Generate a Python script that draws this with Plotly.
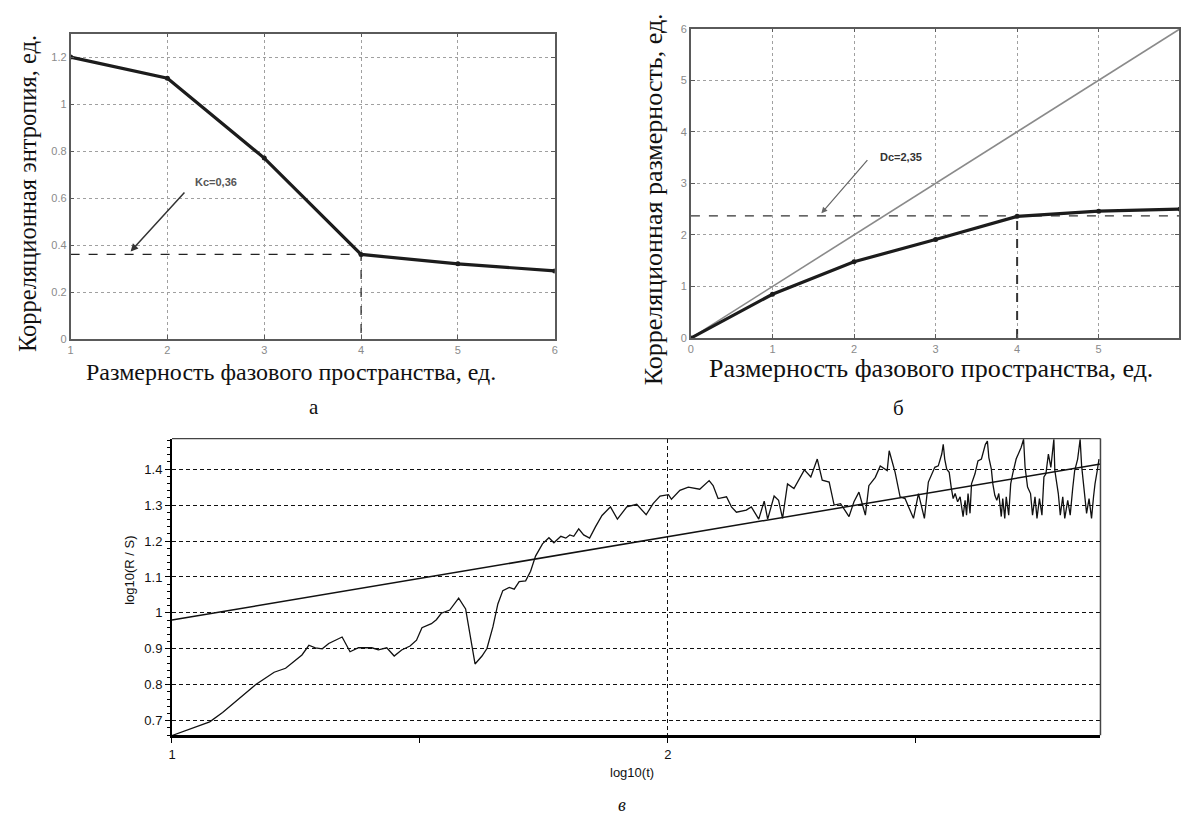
import plotly.graph_objects as go

# ---------------- data ----------------
# (a) correlation entropy vs embedding dimension
a_dim = [1, 2, 3, 4, 5, 6]
a_entropy = [1.20, 1.11, 0.77, 0.36, 0.32, 0.29]
kc_value = 0.36
kc_dim = 4

# (b) correlation dimension vs embedding dimension
b_dim = [0, 1, 2, 3, 4, 5, 6]
b_corr = [0.0, 0.85, 1.48, 1.91, 2.36, 2.46, 2.50]
b_ident = [0, 1, 2, 3, 4, 5, 6]
dc_value = 2.37
dc_dim = 4

# (c) R/S analysis: log10(R/S) vs log10(t)
c_logt = [1.000, 1.076, 1.102, 1.129, 1.169, 1.206, 1.229, 1.262, 1.276, 1.289,
          1.303, 1.316, 1.343, 1.359, 1.376, 1.403, 1.416, 1.433, 1.448, 1.463,
          1.480, 1.493, 1.504, 1.523, 1.533, 1.543, 1.560, 1.578, 1.592, 1.611,
          1.625, 1.635, 1.647, 1.657, 1.667, 1.680, 1.690, 1.700, 1.713, 1.723,
          1.733, 1.747, 1.760, 1.770, 1.784, 1.794, 1.802, 1.810, 1.820, 1.830,
          1.842, 1.854, 1.867, 1.884, 1.898, 1.917, 1.937, 1.956, 1.970, 1.984,
          2.001, 2.007, 2.024, 2.041, 2.064, 2.083, 2.091, 2.101, 2.118, 2.128,
          2.138, 2.158, 2.168, 2.183, 2.194, 2.201, 2.214, 2.223, 2.231, 2.241,
          2.254, 2.275, 2.288, 2.301, 2.311, 2.325, 2.335, 2.348, 2.365, 2.375,
          2.385, 2.398, 2.405, 2.418, 2.428, 2.442, 2.446, 2.458, 2.468, 2.478,
          2.495, 2.505, 2.517, 2.525,
          2.538, 2.545, 2.552, 2.555, 2.558, 2.562, 2.567, 2.571, 2.575, 2.579,
          2.584, 2.589, 2.592, 2.595, 2.599, 2.602, 2.605, 2.609, 2.612, 2.619,
          2.625, 2.632, 2.640, 2.644, 2.647, 2.652, 2.655, 2.659, 2.663, 2.667,
          2.672, 2.675, 2.679, 2.682, 2.687, 2.691, 2.695, 2.702, 2.712, 2.717,
          2.720, 2.725, 2.731, 2.735, 2.740, 2.744, 2.749, 2.754, 2.758, 2.762,
          2.767, 2.772, 2.778, 2.780, 2.787, 2.791, 2.796, 2.800, 2.806, 2.811,
          2.816, 2.820, 2.826, 2.831, 2.834, 2.839, 2.844, 2.849, 2.854, 2.858,
          2.861, 2.866, 2.869]
c_logrs = [0.659, 0.697, 0.723, 0.755, 0.801, 0.835, 0.846, 0.883, 0.910, 0.903,
           0.900, 0.915, 0.933, 0.892, 0.903, 0.903, 0.897, 0.903, 0.880, 0.897,
           0.908, 0.924, 0.959, 0.970, 0.981, 0.999, 1.008, 1.041, 1.011, 0.858,
           0.880, 0.901, 0.961, 1.025, 1.062, 1.071, 1.066, 1.087, 1.089, 1.116,
           1.158, 1.192, 1.209, 1.195, 1.213, 1.208, 1.217, 1.213, 1.234, 1.217,
           1.208, 1.240, 1.271, 1.295, 1.261, 1.295, 1.302, 1.273, 1.304, 1.325,
           1.329, 1.316, 1.341, 1.350, 1.344, 1.368, 1.354, 1.318, 1.323, 1.295,
           1.280, 1.286, 1.295, 1.261, 1.311, 1.261, 1.325, 1.313, 1.263, 1.359,
           1.346, 1.398, 1.378, 1.428, 1.369, 1.364, 1.300, 1.304, 1.268, 1.309,
           1.336, 1.272, 1.354, 1.377, 1.409, 1.396, 1.451, 1.391, 1.323, 1.318,
           1.263, 1.332, 1.263, 1.364,
           1.405, 1.409, 1.442, 1.469, 1.428, 1.400, 1.391, 1.350, 1.318, 1.332,
           1.309, 1.323, 1.291, 1.268, 1.313, 1.272, 1.332, 1.277, 1.359, 1.387,
           1.423, 1.428, 1.469, 1.478, 1.432, 1.400, 1.359, 1.327, 1.313, 1.332,
           1.268, 1.318, 1.263, 1.323, 1.272, 1.359, 1.387, 1.428, 1.460, 1.483,
           1.405, 1.350, 1.332, 1.272, 1.323, 1.263, 1.318, 1.272, 1.378, 1.387,
           1.442, 1.405, 1.483, 1.396, 1.332, 1.272, 1.323, 1.263, 1.313, 1.272,
           1.346, 1.396, 1.428, 1.483, 1.409, 1.336, 1.277, 1.318, 1.263, 1.323,
           1.359, 1.400, 1.428]
c_fit_x = [1.000, 2.872]
c_fit_y = [0.980, 1.414]

c_yticks = [0.7, 0.8, 0.9, 1.0, 1.1, 1.2, 1.3, 1.4]

# ---------------- figure ----------------
W, H = 1182, 817
def px(x):
    return x / W
def py(y):
    return 1 - y / H

SERIF = "Liberation Serif, Times New Roman, serif"
SANS = "Liberation Sans, Arial, sans-serif"

fig = go.Figure()

# (a)
fig.add_trace(go.Scatter(x=[a_dim[0], kc_dim, kc_dim], y=[kc_value, kc_value, 0],
                         mode="lines", line=dict(color="#222", width=1.2, dash="dash"),
                         xaxis="x", yaxis="y", hoverinfo="skip"))
fig.add_trace(go.Scatter(x=a_dim, y=a_entropy, mode="lines+markers",
                         line=dict(color="#1c1c1c", width=3.2),
                         marker=dict(size=5, color="#1c1c1c"),
                         xaxis="x", yaxis="y"))

# (b)
fig.add_trace(go.Scatter(x=[b_dim[0], b_dim[-1]], y=[dc_value, dc_value],
                         mode="lines", line=dict(color="#333", width=1.4, dash="dash"),
                         xaxis="x2", yaxis="y2", hoverinfo="skip"))
fig.add_trace(go.Scatter(x=[dc_dim, dc_dim], y=[0, b_corr[b_dim.index(dc_dim)]],
                         mode="lines", line=dict(color="#333", width=2, dash="dash"),
                         xaxis="x2", yaxis="y2", hoverinfo="skip"))
fig.add_trace(go.Scatter(x=b_dim, y=b_ident, mode="lines",
                         line=dict(color="#8a8a8a", width=1.6),
                         xaxis="x2", yaxis="y2"))
fig.add_trace(go.Scatter(x=b_dim, y=b_corr, mode="lines+markers",
                         line=dict(color="#1c1c1c", width=3.2),
                         marker=dict(size=5, color="#1c1c1c"),
                         xaxis="x2", yaxis="y2"))

# (c)
fig.add_trace(go.Scatter(x=c_fit_x, y=c_fit_y, mode="lines",
                         line=dict(color="#111", width=1.5),
                         xaxis="x3", yaxis="y3"))
fig.add_trace(go.Scatter(x=c_logt, y=c_logrs, mode="lines",
                         line=dict(color="#111", width=1.3),
                         xaxis="x3", yaxis="y3"))

matlab_axis = dict(showline=True, linecolor="#5a5a5a", linewidth=1.5, mirror="ticks",
                   ticks="inside", ticklen=4, tickcolor="#5a5a5a",
                   showgrid=True, gridcolor="#a0a0a0", griddash="dot", gridwidth=1,
                   zeroline=False, tickfont=dict(family=SANS, size=11, color="#8a8a8a"))

fig.update_layout(
    width=W, height=H,
    margin=dict(l=0, r=0, t=0, b=0),
    paper_bgcolor="white", plot_bgcolor="white",
    showlegend=False,
    xaxis=dict(domain=[px(67), px(554)], range=[1, 6], dtick=1, anchor="y",
               **matlab_axis),
    yaxis=dict(domain=[py(338), py(28)], range=[0, 1.3], tick0=0, dtick=0.2, anchor="x",
               **matlab_axis),
    xaxis2=dict(domain=[px(691), 1.0], range=[0, 5.985], dtick=1, anchor="y2",
                **matlab_axis),
    yaxis2=dict(domain=[py(337), py(23)], range=[0, 6], dtick=1, anchor="x2",
                **matlab_axis),
    xaxis3=dict(domain=[px(169), px(1103)], range=[1, 2.872], anchor="y3",
                tick0=1, dtick=1, showline=True, linecolor="#000", linewidth=3,
                ticks="outside", ticklen=5, tickcolor="#000",
                minor=dict(tick0=1, dtick=0.5, ticks="outside", ticklen=5,
                           tickcolor="#000", showgrid=False),
                showgrid=True, gridcolor="#111", griddash="4px,3px", gridwidth=1.2,
                zeroline=False, tickfont=dict(family=SANS, size=13, color="#111")),
    yaxis3=dict(domain=[py(740), py(439)], range=[0.66, 1.485], anchor="x3",
                tickvals=c_yticks, showline=True, linecolor="#000", linewidth=2,
                ticks="outside", ticklen=5, tickcolor="#000",
                minor=dict(dtick=0.02, ticks="outside", ticklen=3, tickcolor="#000",
                           showgrid=False),
                showgrid=True, gridcolor="#111", griddash="4px,3px", gridwidth=1.2,
                zeroline=False, tickfont=dict(family=SANS, size=13, color="#111")),
)

# frame of (c): top and right borders
fig.add_shape(type="line", xref="x3 domain", yref="y3 domain", x0=0, x1=1, y0=1, y1=1,
              line=dict(color="#444", width=1.2))
fig.add_shape(type="line", xref="x3 domain", yref="y3 domain", x0=1, x1=1, y0=0, y1=1,
              line=dict(color="#444", width=1.5))

ann = []
# axis titles (a)
ann.append(dict(text="Корреляционная энтропия, ед.", x=px(23), y=py(190), xref="paper", yref="paper",
                textangle=-90, showarrow=False, font=dict(family=SERIF, size=24.5, color="#111"),
                xanchor="center", yanchor="middle"))
ann.append(dict(text="Размерность фазового пространства, ед.", x=px(289), y=py(371), xref="paper",
                yref="paper", showarrow=False, font=dict(family=SERIF, size=24, color="#111"),
                xanchor="center", yanchor="middle"))
ann.append(dict(text="а", x=px(312), y=py(407), xref="paper", yref="paper", showarrow=False,
                font=dict(family=SERIF, size=21, color="#111"), xanchor="center", yanchor="middle"))
# axis titles (b)
ann.append(dict(text="Корреляционная размерность, ед.", x=px(653), y=py(196), xref="paper",
                yref="paper", textangle=-90, showarrow=False,
                font=dict(family=SERIF, size=26, color="#111"), xanchor="center", yanchor="middle"))
ann.append(dict(text="Размерность фазового пространства, ед.", x=px(933), y=py(368), xref="paper",
                yref="paper", showarrow=False, font=dict(family=SERIF, size=26, color="#111"),
                xanchor="center", yanchor="middle"))
ann.append(dict(text="б", x=px(900), y=py(408), xref="paper", yref="paper", showarrow=False,
                font=dict(family=SERIF, size=21, color="#111"), xanchor="center", yanchor="middle"))
# axis titles (c)
ann.append(dict(text="log10(R / S)", x=px(126), y=py(573), xref="paper", yref="paper",
                textangle=-90, showarrow=False, font=dict(family=SANS, size=13, color="#111"),
                xanchor="center", yanchor="middle"))
ann.append(dict(text="log10(t)", x=px(632), y=py(778), xref="paper", yref="paper",
                showarrow=False, font=dict(family=SANS, size=13, color="#111"),
                xanchor="center", yanchor="middle"))
ann.append(dict(text="<i>в</i>", x=px(622), y=py(811), xref="paper", yref="paper",
                showarrow=False, font=dict(family=SERIF, size=18, color="#111"),
                xanchor="center", yanchor="middle"))

# Kc label and arrow (a)
ann.append(dict(text="<b>Kc=0,36</b>", x=2.5, y=0.667, xref="x", yref="y", showarrow=False,
                font=dict(family=SANS, size=11, color="#555"), xanchor="center", yanchor="middle"))
ann.append(dict(text="", x=1.62, y=kc_value + 0.013, xref="x", yref="y",
                ax=2.19, ay=0.63, axref="x", ayref="y", showarrow=True,
                arrowhead=2, arrowsize=1, arrowwidth=1.5, arrowcolor="#333"))
# Dc label and arrow (b)
ann.append(dict(text="<b>Dc=2,35</b>", x=2.58, y=3.52, xref="x2", yref="y2", showarrow=False,
                font=dict(family=SANS, size=11, color="#333"), xanchor="center", yanchor="middle"))
ann.append(dict(text="", x=1.6, y=dc_value + 0.05, xref="x2", yref="y2",
                ax=2.18, ay=3.48, axref="x2", ayref="y2", showarrow=True,
                arrowhead=2, arrowsize=1, arrowwidth=1.2, arrowcolor="#666"))

fig.update_layout(annotations=ann)

fig.write_html("out.html")
